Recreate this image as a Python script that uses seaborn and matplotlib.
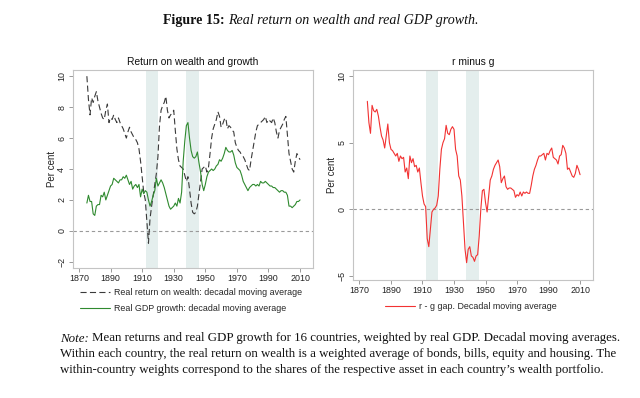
import numpy as np
import pandas as pd
import matplotlib
matplotlib.use("Agg")
import matplotlib.pyplot as plt
import seaborn as sns
from matplotlib.lines import Line2D

# ---------------- data ----------------
years = list(range(1875, 2011))

r_wealth = [
    10.0, 8.5, 7.5, 8.6, 8.3, 8.7, 9.0, 8.4, 8.0, 7.6,   # 1875-1884
    7.3, 7.2, 7.8, 8.2, 7.0, 7.3, 7.2, 7.5, 7.2, 7.0,    # 1885-1894
    7.3, 7.0, 6.8, 6.6, 6.3, 6.0, 6.4, 6.7, 6.4, 6.2,    # 1895-1904
    6.0, 5.9, 5.7, 5.3, 4.5, 3.5, 2.5, 2.0, 0.6, -0.8,   # 1905-1914
    0.8, 1.6, 2.3, 3.0, 3.7, 4.8, 6.8, 7.8, 8.1, 8.3,    # 1915-1924
    8.7, 7.8, 7.3, 7.5, 7.6, 7.8, 6.5, 5.3, 4.6, 4.2,    # 1925-1934
    4.1, 4.0, 3.6, 3.2, 3.5, 2.7, 1.8, 1.2, 1.1, 1.2,    # 1935-1944
    1.6, 2.4, 3.2, 4.0, 4.1, 4.2, 3.8, 4.1, 5.0, 6.0,    # 1945-1954
    6.6, 6.9, 7.2, 7.7, 7.4, 6.7, 6.9, 7.2, 7.3, 6.6,    # 1955-1964
    6.8, 6.7, 6.5, 6.4, 5.7, 5.4, 5.2, 5.1, 4.9, 4.8,    # 1965-1974
    4.6, 4.3, 4.0, 3.9, 4.6, 5.2, 5.8, 6.4, 6.8, 6.9,    # 1975-1984
    7.0, 7.1, 7.2, 7.4, 7.0, 7.2, 7.1, 7.0, 7.3, 7.0,    # 1985-1994
    6.4, 6.0, 6.5, 6.7, 6.9, 7.2, 7.4, 6.2, 5.0, 4.5,    # 1995-2004
    4.0, 3.8, 4.5, 5.0, 4.8, 4.6,                        # 2005-2010
]

g_gdp = [
    1.8, 2.3, 1.9, 1.9, 1.1, 1.0, 1.6, 1.7, 1.7, 2.3,    # 1875-1884
    2.2, 2.5, 2.0, 2.3, 2.6, 2.9, 3.0, 3.4, 3.3, 3.2,    # 1885-1894
    3.1, 3.3, 3.3, 3.5, 3.4, 3.6, 3.3, 3.0, 3.2, 2.7,    # 1895-1904
    2.9, 3.0, 2.8, 3.0, 2.2, 2.7, 2.4, 2.6, 2.5, 2.0,    # 1905-1914
    1.6, 1.9, 2.3, 2.6, 3.4, 2.9, 3.1, 3.3, 3.1, 2.8,    # 1915-1924
    2.4, 2.0, 1.6, 1.4, 1.5, 1.6, 1.8, 1.6, 2.1, 1.8,    # 1925-1934
    2.5, 4.5, 5.8, 6.8, 7.0, 6.0, 5.2, 4.8, 4.7, 4.8,    # 1935-1944
    5.1, 4.4, 3.8, 3.0, 2.6, 3.0, 3.5, 3.8, 3.9, 4.0,    # 1945-1954
    3.9, 4.0, 4.2, 4.3, 4.6, 4.5, 4.7, 5.0, 5.4, 5.2,    # 1955-1964
    5.1, 5.1, 5.2, 4.9, 4.4, 4.1, 4.0, 3.9, 3.6, 3.2,    # 1965-1974
    3.0, 2.8, 2.6, 2.8, 2.9, 3.0, 3.0, 2.9, 3.0, 2.9,    # 1975-1984
    3.2, 3.1, 3.1, 3.2, 3.1, 3.0, 2.9, 2.9, 2.8, 2.8,    # 1985-1994
    2.7, 2.6, 2.5, 2.6, 2.6, 2.5, 2.5, 2.3, 1.6, 1.6,    # 1995-2004
    1.5, 1.6, 1.7, 1.9, 1.9, 2.0,                        # 2005-2010
]

r_minus_g = [
    8.1, 6.5, 5.7, 7.8, 7.4, 7.3, 7.5, 7.0, 6.2, 5.5,    # 1875-1884
    5.2, 4.6, 5.5, 6.4, 5.0, 4.5, 4.4, 4.2, 4.0, 4.2,    # 1885-1894
    3.6, 4.0, 3.8, 3.9, 2.8, 3.1, 2.3, 4.0, 3.5, 3.8,    # 1895-1904
    3.2, 3.3, 2.8, 3.1, 2.0, 1.0, 0.4, 0.2, -2.2, -2.8,  # 1905-1914
    -1.5, -0.2, 0.0, 0.1, 0.3, 1.0, 3.0, 4.5, 5.0, 5.3,  # 1915-1924
    6.3, 5.7, 5.6, 6.0, 6.2, 6.0, 4.5, 4.0, 2.5, 2.2,    # 1925-1934
    1.0, -1.0, -3.0, -4.0, -3.0, -2.8, -3.5, -3.6, -3.9, -3.5,  # 1935-1944
    -3.4, -2.0, 0.0, 1.4, 1.5, 0.5, -0.2, 1.0, 2.2, 2.5,  # 1945-1954
    3.0, 3.3, 3.5, 3.7, 3.2, 2.0, 2.3, 2.5, 1.7, 1.5,    # 1955-1964
    1.6, 1.6, 1.5, 1.4, 0.9, 1.1, 1.0, 1.3, 1.0, 1.3,    # 1965-1974
    1.2, 1.3, 1.2, 1.2, 1.8, 2.5, 3.0, 3.3, 3.7, 4.0,    # 1975-1984
    4.0, 4.1, 4.2, 3.7, 4.2, 4.1, 4.4, 4.6, 3.9, 3.8,    # 1985-1994
    3.7, 3.4, 4.0, 4.1, 4.8, 4.6, 4.2, 3.0, 3.1, 2.8,    # 1995-2004
    2.5, 2.4, 2.7, 3.3, 3.0, 2.6,                        # 2005-2010
]

war_periods = [(1912.4, 1919.8), (1937.8, 1945.9)]
x_ticks = [1870, 1890, 1910, 1930, 1950, 1970, 1990, 2010]
left_yticks = [-2, 0, 2, 4, 6, 8, 10]
right_yticks = [-5, 0, 5, 10]

left_title = "Return on wealth and growth"
right_title = "r minus g"
label_r = "Real return on wealth: decadal moving average"
label_g = "Real GDP growth: decadal moving average"
label_rg = "r - g gap. Decadal moving average"

note_text = [
    "Mean returns and real GDP growth for 16 countries, weighted by real GDP. Decadal moving averages.",
    "Within each country, the real return on wealth is a weighted average of bonds, bills, equity and housing. The",
    "within-country weights correspond to the shares of the respective asset in each country\u2019s wealth portfolio.",
]

# ---------------- styling ----------------
sns.set_theme(style="white")
plt.rcParams['font.family'] = ['Liberation Sans', 'DejaVu Sans']

W, H = 640, 398
fig = plt.figure(figsize=(W / 100, H / 100), dpi=100)
fig.patch.set_facecolor("white")


def rect(x0, y0, x1, y1):
    return [x0 / W, 1 - y1 / H, (x1 - x0) / W, (y1 - y0) / H]


ax1 = fig.add_axes(rect(72.5, 70, 313, 268))
ax2 = fig.add_axes(rect(353, 70, 593, 280))

df = pd.DataFrame({"year": years, "r": r_wealth, "g": g_gdp, "rg": r_minus_g})

band_color = "#e4eeed"
col_r = "#3a3a3a"
col_g = "#2f8a2f"
col_rg = "#f23232"
dash_r = (0, (5.5, 3))

for ax in (ax1, ax2):
    for a, b in war_periods:
        ax.axvspan(a, b, color=band_color, lw=0, zorder=0)
    ax.axhline(0, color="#9a9a9a", lw=0.8, ls=(0, (3, 2.5)), zorder=1)

sns.lineplot(data=df, x="year", y="r", ax=ax1, color=col_r, lw=0.8,
             linestyle=dash_r, zorder=3)
sns.lineplot(data=df, x="year", y="g", ax=ax1, color=col_g, lw=0.8, zorder=3)
sns.lineplot(data=df, x="year", y="rg", ax=ax2, color=col_rg, lw=0.8, zorder=3)

ax1.set_ylim(-2.4, 10.4)
ax2.set_ylim(-5.3, 10.45)
ax1.set_yticks(left_yticks)
ax2.set_yticks(right_yticks)

for ax in (ax1, ax2):
    ax.set_xlim(1865.9, 2018.2)
    ax.set_xticks(x_ticks)
    ax.set_xlabel("")
    ax.set_ylabel("Per cent", fontsize=7, color="#222222")
    ax.tick_params(axis="both", direction="out", length=3, width=0.6,
                   color="#8a8a8a", labelsize=6.4, pad=1.5, labelcolor="#222222",
                   bottom=True, left=True)
    for lab in ax.get_yticklabels():
        lab.set_rotation(90)
        lab.set_va("center")
    for sp in ax.spines.values():
        sp.set_color("#c4c4c4")
        sp.set_linewidth(0.8)
    ax.grid(False)

ax1.yaxis.set_label_coords((57 - 72.5) / 240.5, 0.5)
ax2.yaxis.set_label_coords((337 - 353) / 240, 0.5)

fig.text(192.75 / W, 1 - 62 / H, left_title, ha="center", va="center",
         fontsize=7.4, color="#111111")
fig.text(473 / W, 1 - 62 / H, right_title, ha="center", va="center",
         fontsize=7.4, color="#111111")

# legends
h_r = Line2D([], [], color=col_r, lw=0.8, linestyle=dash_r)
h_g = Line2D([], [], color=col_g, lw=0.8)
h_rg = Line2D([], [], color=col_rg, lw=0.8)
fig.legend([h_r, h_g], [label_r, label_g], loc="upper left",
           bbox_to_anchor=(80 / W, 1 - 288 / H), frameon=False, fontsize=6.4,
           handlelength=3.4, handletextpad=0.45, borderpad=0, borderaxespad=0,
           labelspacing=0.75)
fig.legend([h_rg], [label_rg], loc="upper left",
           bbox_to_anchor=(385 / W, 1 - 302 / H), frameon=False, fontsize=6.4,
           handlelength=3.4, handletextpad=0.45, borderpad=0, borderaxespad=0)

# ---------------- figure caption and note ----------------
serif = ["Liberation Serif", "DejaVu Serif"]
renderer = fig.canvas.get_renderer()

title_size = 10.1
t1 = fig.text(163 / W, 1 - 24 / H, "Figure 15:", fontsize=title_size, family=serif,
              fontweight="bold", ha="left", va="baseline", color="#111111")
bb = t1.get_window_extent(renderer)
fig.text((bb.x1 + 3.5) / W, 1 - 24 / H,
         "Real return on wealth and real GDP growth.", fontsize=title_size,
         family=serif, style="italic", ha="left", va="baseline", color="#111111")

base = 9.0
x_left, x_right = 60.5, 621
baselines = [341.5, 357, 372.5]


def space_width(size):
    t = fig.text(0, 0, "a\u00a0", fontsize=size, family=serif)
    wa = t.get_window_extent(renderer).width
    t.set_text("a")
    wb = t.get_window_extent(renderer).width
    t.remove()
    return wa - wb


def width_of(s, size, style="normal"):
    t = fig.text(0, 0, s, fontsize=size, family=serif, style=style)
    w = t.get_window_extent(renderer).width
    t.remove()
    return w


w1 = width_of("Note:", base, "italic") + space_width(base) + width_of(note_text[0], base)
w2 = width_of(note_text[1], base)
s1 = base * (x_right - x_left) / w1
s2 = base * (x_right - x_left) / w2
s3 = (s1 + s2) / 2

n1 = fig.text(x_left / W, 1 - baselines[0] / H, "Note:", fontsize=s1, family=serif,
              style="italic", ha="left", va="baseline", color="#111111")
nb = n1.get_window_extent(renderer)
fig.text((nb.x1 + space_width(s1)) / W, 1 - baselines[0] / H, note_text[0],
         fontsize=s1, family=serif, ha="left", va="baseline", color="#111111")
fig.text(x_left / W, 1 - baselines[1] / H, note_text[1], fontsize=s2, family=serif,
         ha="left", va="baseline", color="#111111")
fig.text(x_left / W, 1 - baselines[2] / H, note_text[2], fontsize=s3, family=serif,
         ha="left", va="baseline", color="#111111")

fig.savefig("out.png", dpi=100, facecolor="white")
